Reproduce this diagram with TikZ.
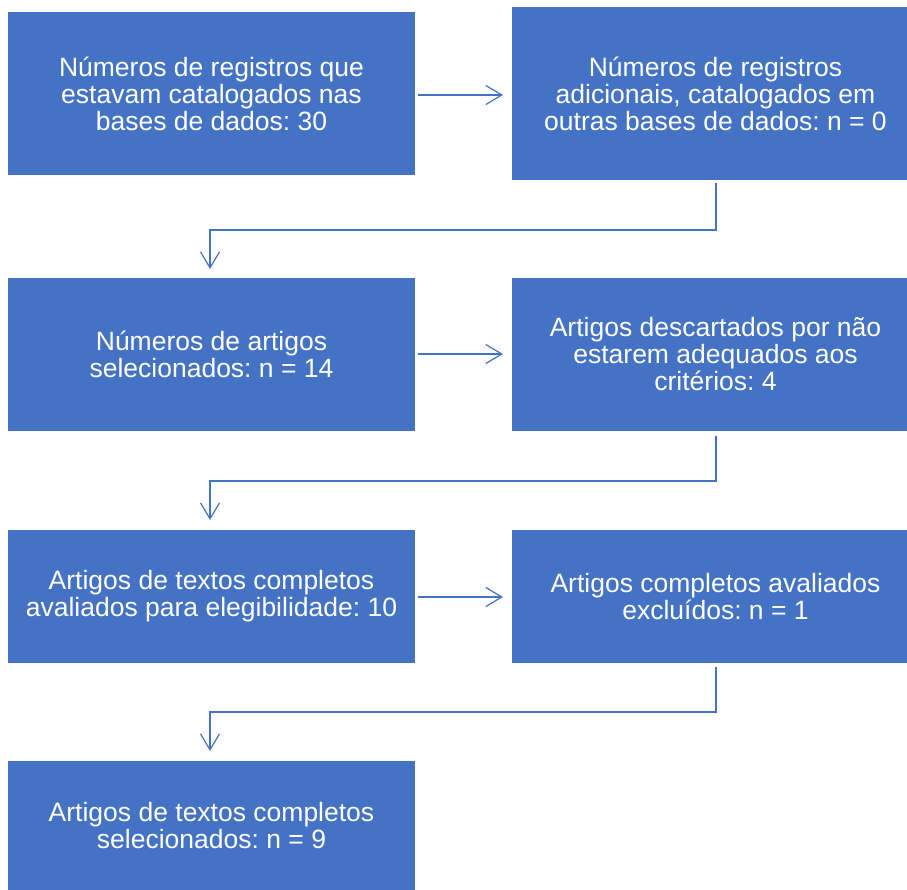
\documentclass[tikz,border=0pt]{standalone}
\usepackage{fontspec}
\setmainfont{Liberation Sans}
\usetikzlibrary{arrows.meta}
\definecolor{boxblue}{HTML}{4472C4}
\frenchspacing
\tikzset{
  flowbox/.style={fill=boxblue, draw=none, text=white, align=center,
    font=\fontsize{26.5}{27}\selectfont, inner sep=0pt},
  conn/.style={draw=boxblue, line width=1.2pt, -{Straight Barb[length=16pt,width=19pt,line width=1.2pt]}},
}
\begin{document}
\begin{tikzpicture}[x=1pt,y=-1pt]
\useasboundingbox (0,0) rectangle (907,890);
% boxes
\path[flowbox] (8,12) rectangle (415,175);
\node[flowbox] (b1) at (211.5,93.5) {Números de registros que\\estavam catalogados nas\\bases de dados: 30};
\path[flowbox] (512,7) rectangle (907,180);
\node[flowbox] (b2) at (715.5,93.5) {Números de registros\\adicionais, catalogados em\\outras bases de dados: n = 0};
\path[flowbox] (8,278) rectangle (415,431);
\node[flowbox] (b3) at (211.5,354.5) {Números de artigos\\selecionados: n = 14};
\path[flowbox] (512,278) rectangle (907,431);
\node[flowbox] (b4) at (715.5,354.5) {Artigos descartados por não\\estarem adequados aos\\critérios: 4};
\path[flowbox] (8,530) rectangle (415,663);
\node[flowbox] (b5) at (211.5,596.5) {Artigos de textos completos\\avaliados para elegibilidade: 10};
\path[flowbox] (512,530) rectangle (907,663);
\node[flowbox] (b6) at (715.5,596.5) {Artigos completos avaliados\\excluídos: n = 1};
\path[flowbox] (8,761) rectangle (415,890);
\node[flowbox] (b7) at (211.5,825.5) {Artigos de textos completos\\selecionados: n = 9};
% coordinates for connector ends
\coordinate (a1s) at (418,95); \coordinate (a1e) at (503,95);
\coordinate (c1s) at (716,183); \coordinate (c1e) at (210,269);
\coordinate (a2s) at (418,354); \coordinate (a2e) at (503,354);
\coordinate (c2s) at (716,436); \coordinate (c2e) at (210,520);
\coordinate (a3s) at (418,597); \coordinate (a3e) at (503,597);
\coordinate (c3s) at (716,667); \coordinate (c3e) at (210,751);
% connectors
\draw[conn] (a1s) -- (a1e);
\draw[conn] (c1s) -- (716,230) -- (210,230) -- (c1e);
\draw[conn] (a2s) -- (a2e);
\draw[conn] (c2s) -- (716,481) -- (210,481) -- (c2e);
\draw[conn] (a3s) -- (a3e);
\draw[conn] (c3s) -- (716,712) -- (210,712) -- (c3e);
\end{tikzpicture}
\end{document}
